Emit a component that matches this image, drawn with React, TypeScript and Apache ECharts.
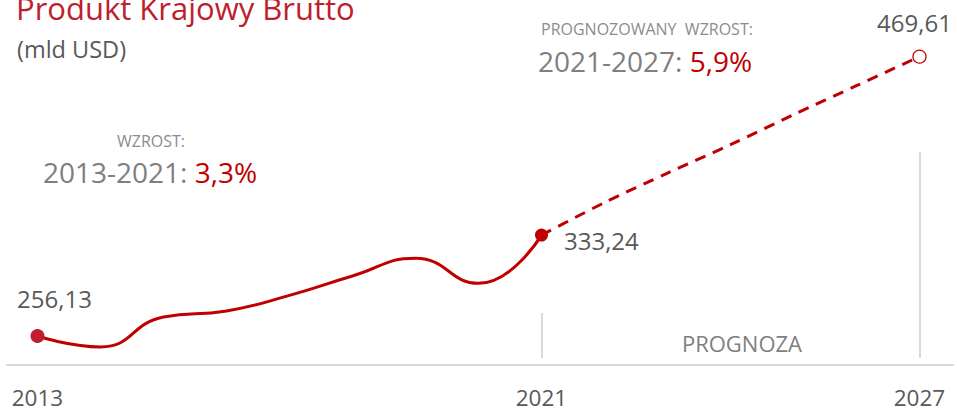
import React, { useEffect, useRef } from "react";
import * as echarts from "echarts";

// ---- data ----
const historyYears = [2013, 2014, 2015, 2016, 2017, 2018, 2019, 2020, 2021];
const historyValues = [256.13, 247.8, 270.7, 275.3, 287.2, 302.0, 315.5, 296.4, 333.24];
const forecastYears = [2021, 2022, 2023, 2024, 2025, 2026, 2027];
const forecastValues = [333.24, 358.1, 380.6, 402.3, 425.2, 447.4, 469.61];
const axisYears = [2013, 2021, 2027];
const labelledYears = [2013, 2021, 2027];

const titleText = "Produkt Krajowy Brutto";
const unitText = "(mld USD)";
const growthHistLabel = "WZROST:";
const growthHistRange = "2013-2021:";
const growthHistValue = "3,3%";
const growthFcLabel = "PROGNOZOWANY  WZROST:";
const growthFcRange = "2021-2027:";
const growthFcValue = "5,9%";
const forecastText = "PROGNOZA";

const FONT = "'Open Sans', 'Noto Sans', sans-serif";
const RED = "#C00000";
const TITLE_RED = "#BE1E2D";
const DARK = "#595959";
const GRAY = "#7f7f7f";
const LIGHT = "#8c8c8c";
const RULE = "#d9d9d9";

const fmt = (v: number) => v.toFixed(2).replace(".", ",");

export default function App() {
  const ref = useRef<HTMLDivElement>(null);
  useEffect(() => {
    if (!ref.current) return;
    const chart = echarts.init(ref.current, undefined, { renderer: "svg" });

    const histData = historyYears.map((y, i) => {
      const v = historyValues[i];
      const item: any = { value: [y, v] };
      if (y === 2013) {
        item.symbol = "circle";
        item.symbolSize = 14;
        item.itemStyle = { color: TITLE_RED };
        item.label = {
          show: labelledYears.includes(y),
          position: "top",
          offset: [17, -14],
          formatter: () => fmt(v),
        };
      } else if (y === 2021) {
        item.symbol = "circle";
        item.symbolSize = 13;
        item.itemStyle = { color: RED };
        item.label = {
          show: labelledYears.includes(y),
          position: "right",
          offset: [11, 5],
          formatter: () => fmt(v),
        };
      } else {
        item.symbol = "none";
      }
      return item;
    });

    const fcData = forecastYears.map((y, i) => {
      const v = forecastValues[i];
      const item: any = { value: [y, v] };
      if (y === 2027) {
        item.symbol = "circle";
        item.symbolSize = 13;
        item.itemStyle = { color: "#ffffff", borderColor: RED, borderWidth: 1.3 };
        item.label = {
          show: labelledYears.includes(y),
          position: "top",
          offset: [-5, -10],
          formatter: () => fmt(v),
        };
      } else {
        item.symbol = "none";
      }
      return item;
    });

    chart.setOption({
      animation: false,
      grid: { left: 7, right: 4, top: 20, bottom: 46 },
      xAxis: {
        type: "value",
        min: 2012.516,
        max: 2027.532,
        axisLine: { show: true, lineStyle: { color: RULE, width: 2 } },
        axisTick: { show: false },
        splitLine: { show: false },
        axisLabel: {
          customValues: axisYears,
          formatter: (v: number) => String(v),
          color: DARK,
          fontFamily: FONT,
          fontSize: 22.5,
          margin: 21,
        },
      },
      yAxis: {
        type: "value",
        min: 234,
        max: 497.6,
        show: false,
        splitLine: { show: false },
      },
      series: [
        {
          type: "line",
          data: histData,
          smooth: 0.5,
          z: 3,
          lineStyle: { color: RED, width: 3 },
          label: { color: DARK, fontFamily: FONT, fontSize: 24 },
        },
        {
          type: "line",
          data: fcData,
          smooth: 0.3,
          z: 2,
          lineStyle: { color: RED, width: 3, type: [11, 8] },
          label: { color: DARK, fontFamily: FONT, fontSize: 24 },
          markLine: {
            silent: true,
            symbol: "none",
            label: { show: false },
            lineStyle: { color: RULE, width: 2, type: "solid" },
            data: [
              [{ coord: [2021, 239.3] }, { coord: [2021, 273.7] }],
              [{ coord: [2027, 239.3] }, { coord: [2027, 396.7] }],
            ],
          },
        },
      ],
      graphic: [
        {
          type: "text",
          style: {
            text: titleText,
            x: 16,
            y: 8,
            fill: TITLE_RED,
            fontFamily: FONT,
            fontSize: 31,
            verticalAlign: "middle",
          },
        },
        {
          type: "text",
          style: {
            text: unitText,
            x: 17,
            y: 49,
            fill: DARK,
            fontFamily: FONT,
            fontSize: 23.5,
            verticalAlign: "middle",
          },
        },
        {
          type: "text",
          style: {
            text: growthHistLabel,
            x: 117,
            y: 141,
            fill: LIGHT,
            fontFamily: FONT,
            fontSize: 16,
            verticalAlign: "middle",
          },
        },
        {
          type: "text",
          style: {
            text: `{a|${growthHistRange} }{b|${growthHistValue}}`,
            x: 43,
            y: 172,
            verticalAlign: "middle",
            rich: {
              a: { fill: GRAY, color: GRAY, fontFamily: FONT, fontSize: 28 },
              b: { fill: RED, color: RED, fontFamily: FONT, fontSize: 28 },
            },
          },
        },
        {
          type: "text",
          style: {
            text: growthFcLabel,
            x: 541,
            y: 28.5,
            fill: LIGHT,
            fontFamily: FONT,
            fontSize: 16,
            verticalAlign: "middle",
          },
        },
        {
          type: "text",
          style: {
            text: `{a|${growthFcRange} }{b|${growthFcValue}}`,
            x: 538,
            y: 61,
            verticalAlign: "middle",
            rich: {
              a: { fill: GRAY, color: GRAY, fontFamily: FONT, fontSize: 28 },
              b: { fill: RED, color: RED, fontFamily: FONT, fontSize: 28 },
            },
          },
        },
        {
          type: "text",
          style: {
            text: forecastText,
            x: 742,
            y: 342.5,
            fill: GRAY,
            fontFamily: FONT,
            fontSize: 22,
            align: "center",
            verticalAlign: "middle",
          },
        },
      ],
    });

    return () => chart.dispose();
  }, []);

  return (
    <div
      ref={ref}
      style={{ position: "absolute", left: 0, top: 0, width: 957, height: 411, background: "#fff" }}
    />
  );
}
